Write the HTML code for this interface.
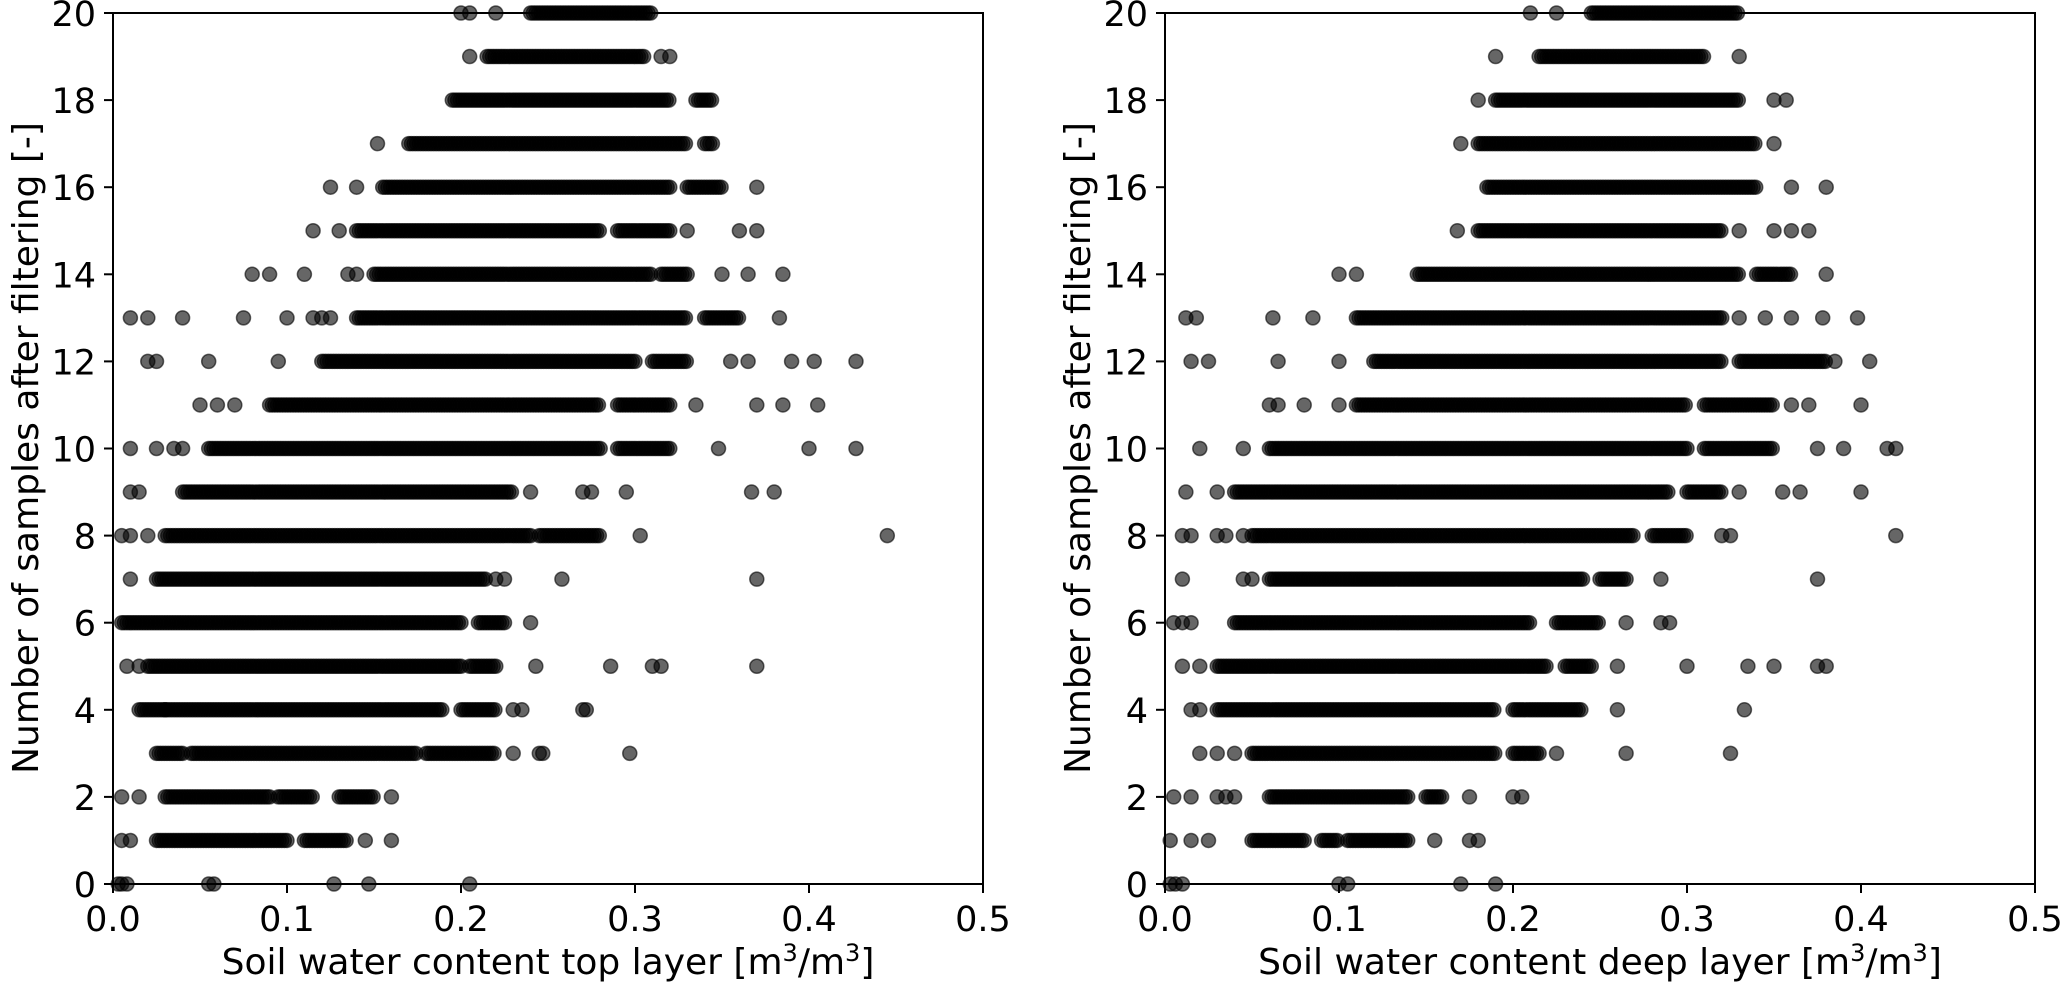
<!DOCTYPE html>
<html><head><meta charset="utf-8"><style>
html,body{margin:0;padding:0;background:#fff;}
svg{display:block;font-family:"DejaVu Sans","Liberation Sans",sans-serif;}
</style></head><body>
<svg id="chart" width="2067" height="984" viewBox="0 0 2067 984"></svg>
<script>
// Left panel data (top layer): dense runs [y, xStart, xEnd] and isolated points [y, x]
const topRuns = [
[1,0.025,0.10],[1,0.11,0.135],[2,0.03,0.09],[2,0.095,0.115],[2,0.13,0.15],
[3,0.025,0.04],[3,0.045,0.175],[3,0.18,0.22],[4,0.015,0.03],[4,0.03,0.19],[4,0.2,0.22],
[5,0.02,0.2],[5,0.205,0.22],[6,0.005,0.2],[6,0.21,0.225],[7,0.025,0.215],
[8,0.03,0.24],[8,0.245,0.28],[9,0.04,0.23],[10,0.055,0.28],[10,0.29,0.32],
[11,0.09,0.28],[11,0.29,0.32],[12,0.12,0.30],[12,0.31,0.33],[13,0.14,0.33],[13,0.34,0.36],
[14,0.15,0.31],[14,0.315,0.33],[15,0.14,0.28],[15,0.29,0.32],[16,0.155,0.32],[16,0.33,0.35],
[17,0.17,0.33],[17,0.34,0.345],[18,0.195,0.32],[18,0.335,0.345],[19,0.215,0.305],[20,0.24,0.31]];
const topPts = [
[0,0.003],[0,0.005],[0,0.008],[0,0.055],[0,0.058],[0,0.127],[0,0.147],[0,0.205],
[1,0.005],[1,0.01],[1,0.145],[1,0.16],[2,0.005],[2,0.015],[2,0.16],
[3,0.23],[3,0.245],[3,0.247],[3,0.297],[4,0.23],[4,0.235],[4,0.27],[4,0.272],
[5,0.008],[5,0.015],[5,0.243],[5,0.286],[5,0.31],[5,0.315],[5,0.37],[6,0.24],
[7,0.01],[7,0.22],[7,0.225],[7,0.258],[7,0.37],[8,0.005],[8,0.01],[8,0.02],[8,0.303],[8,0.445],
[9,0.01],[9,0.015],[9,0.24],[9,0.27],[9,0.275],[9,0.295],[9,0.367],[9,0.38],
[10,0.01],[10,0.025],[10,0.035],[10,0.04],[10,0.348],[10,0.4],[10,0.427],
[11,0.05],[11,0.06],[11,0.07],[11,0.335],[11,0.37],[11,0.385],[11,0.405],
[12,0.02],[12,0.025],[12,0.055],[12,0.095],[12,0.355],[12,0.365],[12,0.39],[12,0.403],[12,0.427],
[13,0.01],[13,0.02],[13,0.04],[13,0.075],[13,0.1],[13,0.115],[13,0.12],[13,0.125],[13,0.383],
[14,0.08],[14,0.09],[14,0.11],[14,0.135],[14,0.14],[14,0.35],[14,0.365],[14,0.385],
[15,0.115],[15,0.13],[15,0.33],[15,0.36],[15,0.37],[16,0.125],[16,0.14],[16,0.37],
[17,0.152],[19,0.205],[19,0.315],[19,0.32],[20,0.2],[20,0.205],[20,0.22]];
// Right panel data (deep layer)
const deepRuns = [
[1,0.05,0.08],[1,0.09,0.10],[1,0.105,0.14],[2,0.06,0.14],[2,0.15,0.16],
[3,0.05,0.19],[3,0.2,0.215],[4,0.03,0.19],[4,0.2,0.24],[5,0.03,0.22],[5,0.23,0.245],
[6,0.04,0.21],[6,0.225,0.25],[7,0.06,0.24],[7,0.25,0.265],[8,0.05,0.27],[8,0.28,0.30],
[9,0.04,0.29],[9,0.30,0.32],[10,0.06,0.30],[10,0.31,0.35],[11,0.11,0.30],[11,0.31,0.35],
[12,0.12,0.32],[12,0.33,0.38],[13,0.11,0.32],[14,0.145,0.33],[14,0.34,0.36],
[15,0.18,0.32],[16,0.185,0.34],[17,0.18,0.34],[18,0.19,0.33],[19,0.215,0.31],[20,0.245,0.33]];
const deepPts = [
[0,0.003],[0,0.006],[0,0.01],[0,0.1],[0,0.105],[0,0.17],[0,0.19],
[1,0.003],[1,0.015],[1,0.025],[1,0.155],[1,0.175],[1,0.18],
[2,0.005],[2,0.015],[2,0.03],[2,0.035],[2,0.04],[2,0.175],[2,0.2],[2,0.205],
[3,0.02],[3,0.03],[3,0.04],[3,0.225],[3,0.265],[3,0.325],[4,0.015],[4,0.02],[4,0.26],[4,0.333],
[5,0.01],[5,0.02],[5,0.26],[5,0.3],[5,0.335],[5,0.35],[5,0.375],[5,0.38],
[6,0.005],[6,0.01],[6,0.015],[6,0.265],[6,0.285],[6,0.29],[7,0.01],[7,0.045],[7,0.05],[7,0.285],[7,0.375],
[8,0.01],[8,0.015],[8,0.03],[8,0.035],[8,0.045],[8,0.32],[8,0.325],[8,0.42],
[9,0.012],[9,0.03],[9,0.33],[9,0.355],[9,0.365],[9,0.4],
[10,0.02],[10,0.045],[10,0.375],[10,0.39],[10,0.415],[10,0.42],
[11,0.06],[11,0.065],[11,0.08],[11,0.1],[11,0.36],[11,0.37],[11,0.4],
[12,0.015],[12,0.025],[12,0.065],[12,0.1],[12,0.385],[12,0.405],
[13,0.012],[13,0.018],[13,0.062],[13,0.085],[13,0.33],[13,0.345],[13,0.36],[13,0.378],[13,0.398],
[14,0.1],[14,0.11],[14,0.38],[15,0.168],[15,0.33],[15,0.35],[15,0.36],[15,0.37],
[16,0.36],[16,0.38],[17,0.17],[17,0.35],[18,0.18],[18,0.35],[18,0.357],
[19,0.19],[19,0.33],[20,0.21],[20,0.225]];
const xTicks = [0.0,0.1,0.2,0.3,0.4,0.5];
const yTicks = [0,2,4,6,8,10,12,14,16,18,20];
const xTickLabels = ["0.0","0.1","0.2","0.3","0.4","0.5"];

const NS="http://www.w3.org/2000/svg";
const svg=document.getElementById('chart');
function mk(tag,attrs,parent){const e=document.createElementNS(NS,tag);for(const k in attrs)e.setAttribute(k,attrs[k]);(parent||svg).appendChild(e);return e;}
const TOP=13,BOT=884;
function panel(x0,x1,runs,pts,title,name){
  const g=mk('g',{});
  
  
  const xs=v=>x0+(v/0.5)*(x1-x0);
  const ys=v=>BOT-(v/20)*(BOT-TOP);
  const pg=mk('g',{},g);
  
  
  function dot(y,x){
    const c=mk('circle',{cx:xs(x),cy:ys(y),r:7,fill:'#000','fill-opacity':0.6,stroke:'#000','stroke-opacity':0.6,'stroke-width':1.5},pg);
    
    
  }
  runs.forEach(r=>{for(let x=r[1];x<=r[2]+1e-9;x+=0.0015)dot(r[0],x);});
  pts.forEach(p=>dot(p[0],p[1]));
  const frame=mk('rect',{x:x0,y:TOP,width:x1-x0,height:BOT-TOP,fill:'none',stroke:'#000','stroke-width':2},g);
  
  
  xTicks.forEach((t,i)=>{
    mk('line',{x1:xs(t),x2:xs(t),y1:BOT,y2:BOT+9,stroke:'#000','stroke-width':2},g);
    const tx=mk('text',{x:xs(t),y:931,'text-anchor':'middle','font-size':35},g);
    tx.textContent=xTickLabels[i];
    
    
  });
  yTicks.forEach(t=>{
    mk('line',{x1:x0-9,x2:x0,y1:ys(t),y2:ys(t),stroke:'#000','stroke-width':2},g);
    const tx=mk('text',{x:x0-17,y:ys(t)+13,'text-anchor':'end','font-size':35},g);
    tx.textContent=t;
    
    
  });
  const xt=mk('text',{x:(x0+x1)/2,y:974,'text-anchor':'middle','font-size':36},g);
  xt.innerHTML=title+' [m<tspan dy="-13" font-size="24">3</tspan><tspan dy="13">/m</tspan><tspan dy="-13" font-size="24">3</tspan><tspan dy="13">]</tspan>';
  
  
  const yt=mk('text',{x:0,y:0,'text-anchor':'middle','font-size':36,transform:`translate(${x0-75},448) rotate(-90)`},g);
  yt.textContent='Number of samples after filtering [-]';
  
  
}
panel(113,983,topRuns,topPts,'Soil water content top layer','top-layer-panel');
panel(1165,2035,deepRuns,deepPts,'Soil water content deep layer','deep-layer-panel');
</script>
</body></html>
